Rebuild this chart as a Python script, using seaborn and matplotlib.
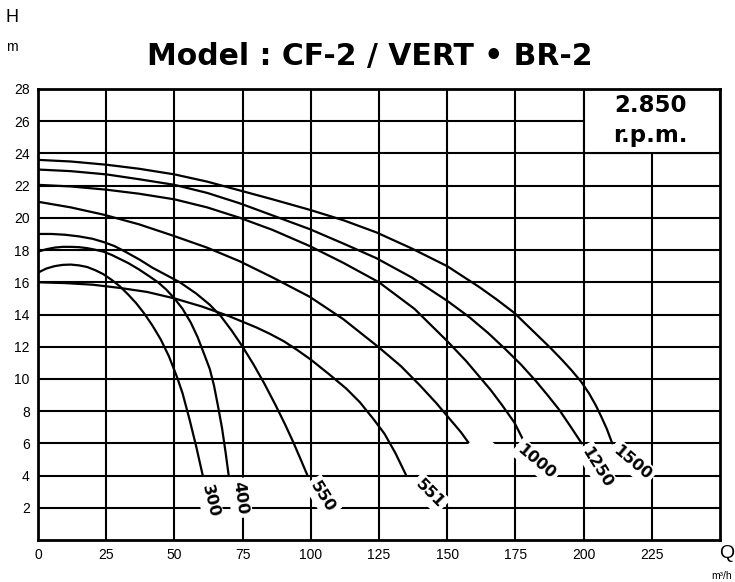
import matplotlib
matplotlib.use("Agg")
import matplotlib.pyplot as plt
import seaborn as sns
import pandas as pd
from matplotlib.patches import Rectangle

# ---- data ----
curve_names = ["300", "400", "550", "551", "", "1000", "1250", "1500"]

q_300 = [0, 3, 6, 9, 12, 15, 18, 21, 24, 27, 30, 33, 36, 39, 42, 45, 48, 51, 53, 55.6, 58, 60.4]
h_300 = [16.6, 16.85, 17.0, 17.08, 17.1, 17.05, 16.95, 16.75, 16.5, 16.15, 15.75, 15.25, 14.7,
         14.05, 13.3, 12.45, 11.4, 10.1, 9.1, 7.45, 5.8, 4.0]

q_400 = [0, 3, 6, 9, 12, 15, 18, 21, 24, 27, 30, 33, 37, 41, 44, 47, 50, 53, 56, 58.5, 61, 63,
         64.5, 66, 67.5, 68.8, 69.9]
h_400 = [17.9, 18.05, 18.15, 18.2, 18.2, 18.18, 18.12, 18.02, 17.9, 17.7, 17.45, 17.2, 16.8,
         16.35, 16.0, 15.55, 15.0, 14.35, 13.5, 12.6, 11.5, 10.6, 9.6, 8.3, 6.9, 5.4, 4.0]

q_550 = [0, 5, 10, 15, 20, 24, 28, 32, 37.3, 42, 47, 52, 58, 63, 67, 71, 75, 79, 83, 87, 90.5,
         93.5, 96.3, 98.8]
h_550 = [19.0, 19.0, 18.95, 18.85, 18.7, 18.5, 18.25, 17.9, 17.4, 16.9, 16.45, 16.0, 15.3, 14.6,
         13.9, 13.0, 12.0, 10.9, 9.7, 8.4, 7.2, 6.1, 5.0, 4.0]

q_551 = [0, 10, 20, 30, 40, 50, 60, 70, 75, 80, 85, 90, 95, 100, 107, 113, 118, 123, 127, 131,
         135]
h_551 = [16.0, 15.95, 15.85, 15.65, 15.4, 15.0, 14.5, 13.9, 13.55, 13.2, 12.8, 12.35, 11.8, 11.2,
         10.25, 9.4, 8.55, 7.5, 6.6, 5.4, 4.0]

q_x = [0, 12, 24, 37, 49.4, 62, 74, 86, 99.6, 112, 125, 133, 140, 146, 151, 155, 158]
h_x = [21.0, 20.65, 20.2, 19.6, 18.9, 18.15, 17.3, 16.3, 15.1, 13.7, 11.95, 10.8, 9.6, 8.5,
       7.5, 6.7, 6.0]

q_1000 = [0, 12, 25, 37, 50, 62, 74, 86, 99.6, 112, 125, 138, 150, 157, 162, 166, 170, 174.6,
          178.5]
h_1000 = [22.05, 21.95, 21.75, 21.5, 21.15, 20.65, 20.0, 19.25, 18.25, 17.2, 16.0, 14.35, 12.35,
          11.1, 10.1, 9.3, 8.4, 7.3, 6.0]

q_1250 = [0, 12, 25, 37, 50, 62, 74, 86, 99.6, 112, 124, 137, 150, 158, 165, 171, 177, 182.6,
          187, 191, 195, 199.3]
h_1250 = [23.0, 22.9, 22.7, 22.4, 22.05, 21.55, 20.9, 20.15, 19.3, 18.4, 17.5, 16.3, 14.85,
          13.85, 12.85, 11.9, 10.9, 9.85, 8.95, 8.1, 7.1, 6.0]

q_1500 = [0, 12, 25, 37, 50, 62, 74, 86, 99.6, 112, 124, 137, 150, 161.8, 168, 174.6, 181, 188,
          192, 195.5, 199, 202, 204.5, 206.5, 208.5, 210.5]
h_1500 = [23.6, 23.5, 23.3, 23.05, 22.7, 22.25, 21.7, 21.15, 20.5, 19.85, 19.1, 18.1, 17.0, 15.7,
          14.95, 14.1, 13.05, 11.9, 11.2, 10.55, 9.85, 9.1, 8.35, 7.65, 6.9, 6.0]

curve_q = [q_300, q_400, q_550, q_551, q_x, q_1000, q_1250, q_1500]
curve_h = [h_300, h_400, h_550, h_551, h_x, h_1000, h_1250, h_1500]

# label positions (Q, H) and rotation
label_q = [63, 74, 104.3, 143.5, 162.5, 182.6, 205, 217.8]
label_h = [2.4, 2.6, 2.7, 2.9, 5.8, 4.85, 4.5, 4.8]
label_rot = [-76, -82, -58, -45, -40, -40, -58, -40]

x_ticks = [0, 25, 50, 75, 100, 125, 150, 175, 200, 225]
y_ticks = [2, 4, 6, 8, 10, 12, 14, 16, 18, 20, 22, 24, 26, 28]

title = "Model : CF-2 / VERT \u2022 BR-2"
rpm_lines = ["2.850", "r.p.m."]

# ---- build long table ----
rows = []
for i, (qs, hs) in enumerate(zip(curve_q, curve_h)):
    for j, (q, h) in enumerate(zip(qs, hs)):
        rows.append({"curve": i, "order": j, "Q": q, "H": h})
df = pd.DataFrame(rows)

sns.set_theme(style="white")
plt.rcParams["font.family"] = ["Liberation Sans", "DejaVu Sans"]

fig = plt.figure(figsize=(7.35, 5.82), dpi=100)
ax = fig.add_axes([38 / 735, 1 - 540 / 582, (720 - 38) / 735, (540 - 89) / 582])

sns.lineplot(data=df, x="Q", y="H", units="curve", estimator=None, sort=False,
             color="black", linewidth=1.6, ax=ax, zorder=3)

ax.set_xlim(0, 250)
ax.set_ylim(0, 28)
ax.set_xticks(x_ticks)
ax.set_yticks(y_ticks)
ax.set_xticklabels([str(t) for t in x_ticks], fontsize=10)
ax.set_yticklabels([str(t) for t in y_ticks], fontsize=10)
ax.tick_params(length=0, pad=6, colors="black")
ax.grid(True, color="black", linewidth=1.5)
ax.set_axisbelow(True)
for s in ax.spines.values():
    s.set_color("black")
    s.set_linewidth(2.0)
    s.set_zorder(6)
ax.set_xlabel("")
ax.set_ylabel("")

# curve labels
for name, q, h, r in zip(curve_names, label_q, label_h, label_rot):
    txt = name if name else "   "
    ax.text(q, h, txt, rotation=r, ha="center", va="center", fontsize=11.5,
            fontweight="bold", family="DejaVu Sans", color="black", zorder=5,
            bbox=dict(boxstyle="square,pad=0.2", fc="white", ec="none"))

# rpm box
ax.add_patch(Rectangle((200, 24), 50, 4, facecolor="white", edgecolor="black",
                       linewidth=1.5, zorder=4))
ax.text(224.6, 27.0, rpm_lines[0], ha="center", va="center", fontsize=16.5,
        fontweight="bold", family="DejaVu Sans", zorder=5, color="black")
ax.text(224.6, 25.1, rpm_lines[1], ha="center", va="center", fontsize=16.5,
        fontweight="bold", family="DejaVu Sans", zorder=5, color="black")

fig.text(370 / 735, 1 - 56 / 582, title, ha="center", va="center",
         fontsize=21.5, fontweight="bold", family="DejaVu Sans", color="black")
fig.text(12 / 735, 1 - 17 / 582, "H", ha="center", va="center", fontsize=13, color="black")
fig.text(12 / 735, 1 - 47 / 582, "m", ha="center", va="center", fontsize=10, color="black")
fig.text(727 / 735, 1 - 553 / 582, "Q", ha="center", va="center", fontsize=14, color="black")
fig.text(722 / 735, 1 - 576 / 582, "m\u00b3/h", ha="center", va="center", fontsize=7.5, color="black")

fig.savefig("out.png", dpi=100)
